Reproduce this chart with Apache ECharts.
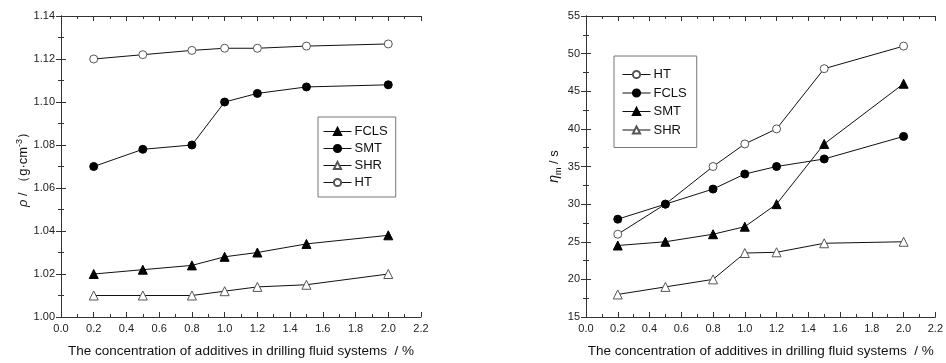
<!DOCTYPE html>
<html><head><meta charset="utf-8">
<script src="https://cdn.jsdelivr.net/npm/echarts@6/dist/echarts.min.js"></script>
<style>html,body{margin:0;padding:0;background:#fff}#c{width:946px;height:363px}</style>
</head><body><div id="c"></div>
<script>
const xVals = [0.2, 0.5, 0.8, 1.0, 1.2, 1.5, 2.0];
// Left chart: density
const leftHT   = [1.120, 1.122, 1.124, 1.125, 1.125, 1.126, 1.127];
const leftSMT  = [1.070, 1.078, 1.080, 1.100, 1.104, 1.107, 1.108];
const leftFCLS = [1.020, 1.022, 1.024, 1.028, 1.030, 1.034, 1.038];
const leftSHR  = [1.010, 1.010, 1.010, 1.012, 1.014, 1.015, 1.020];
// Right chart: funnel viscosity
const rightHT   = [26, 30, 35, 38, 40, 48, 51];
const rightFCLS = [28, 30, 32, 34, 35, 36, 39];
const rightSMT  = [24.5, 25, 26, 27, 30, 38, 46];
const rightSHR  = [18, 19, 20, 23.5, 23.6, 24.8, 25];

const leftLegend = ['FCLS', 'SMT', 'SHR', 'HT'];
const rightLegend = ['HT', 'FCLS', 'SMT', 'SHR'];

const pairs = ys => xVals.map((x, i) => [x, ys[i]]);
const FONT = 'Liberation Sans, Arial, sans-serif';
const TXT = '#222';

function mkSeries(name, data, idx, symbol, filled) {
  return {
    type: 'line', name: name, xAxisIndex: idx, yAxisIndex: idx,
    data: pairs(data), symbol: symbol, symbolSize: symbol === 'triangle' ? 9 : 8,
    lineStyle: { color: '#111', width: 1 },
    itemStyle: filled ? { color: '#000', borderColor: '#000', borderWidth: 1 }
                      : { color: '#fff', borderColor: '#555', borderWidth: 1 },
    emphasis: { disabled: true }, animation: false, z: 5
  };
}

function xAxisPair(gi) {
  const base = {
    type: 'value', gridIndex: gi, min: 0, max: 2.2, interval: 0.2,
    splitLine: { show: false },
    axisLine: { lineStyle: { color: '#333', width: 1 } },
    axisTick: { inside: true, length: 5, lineStyle: { color: '#333' } },
    minorTick: { show: true, splitNumber: 2, length: 3, lineStyle: { color: '#333' } }
  };
  return [
    Object.assign({}, base, {
      position: 'bottom',
      axisLabel: { margin: 6, fontSize: 11, color: TXT, fontFamily: FONT, formatter: v => v.toFixed(1) },
      name: 'The concentration of additives in drilling fluid systems  / %',
      nameLocation: 'middle', nameGap: 27,
      nameTextStyle: { fontSize: 13.5, color: '#111', fontFamily: FONT }
    }),
    Object.assign({}, base, { position: 'top', axisLabel: { show: false } })
  ];
}

function yAxisPair(gi, min, max, interval, dec, name, gap, rich) {
  const base = {
    type: 'value', gridIndex: gi, min: min, max: max, interval: interval,
    splitLine: { show: false },
    axisLine: { show: true, lineStyle: { color: '#333', width: 1 } },
    axisTick: { show: true, inside: true, length: 5, lineStyle: { color: '#333' } },
    minorTick: { show: true, splitNumber: 2, length: 3, lineStyle: { color: '#333' } }
  };
  return [
    Object.assign({}, base, {
      position: 'left',
      axisLabel: { margin: 6, fontSize: 11, color: TXT, fontFamily: FONT, formatter: v => v.toFixed(dec) },
      name: name, nameLocation: 'middle', nameGap: gap, nameRotate: 90,
      nameTextStyle: { fontSize: 13, color: '#111', fontFamily: FONT, rich: rich }
    }),
    Object.assign({}, base, { position: 'right', axisLabel: { show: false } })
  ];
}

const xs = xAxisPair(0).concat(xAxisPair(1));
const ysL = yAxisPair(0, 1.00, 1.14, 0.02, 2, '{i|ρ} / （g·cm{sup|-3}）', 29, {
  i: { fontStyle: 'italic', fontSize: 13, fontFamily: FONT, color: '#111' },
  sup: { fontSize: 9, verticalAlign: 'top', padding: [0, 0, 8, 0], fontFamily: FONT, color: '#111' }
});
const ysR = yAxisPair(1, 15, 55, 5, 0, '{i|η}{sub|m} / s', 23, {
  i: { fontStyle: 'italic', fontSize: 14, fontFamily: FONT, color: '#111' },
  sub: { fontSize: 9, padding: [8, 0, 0, 0], fontFamily: FONT, color: '#111' }
});
const xAxes = xs;
const yAxes = ysL.concat(ysR);

const series = [
  mkSeries('HT', leftHT, 0, 'circle', false),
  mkSeries('SMT', leftSMT, 0, 'circle', true),
  mkSeries('FCLS', leftFCLS, 0, 'triangle', true),
  mkSeries('SHR', leftSHR, 0, 'triangle', false),
  mkSeries('HT_r', rightHT, 2, 'circle', false),
  mkSeries('FCLS_r', rightFCLS, 2, 'circle', true),
  mkSeries('SMT_r', rightSMT, 2, 'triangle', true),
  mkSeries('SHR_r', rightSHR, 2, 'triangle', false)
];

const legendBase = {
  orient: 'vertical', itemWidth: 28, itemHeight: 9,
  backgroundColor: '#fff', borderColor: '#777', borderWidth: 1,
  textStyle: { fontSize: 13, color: '#111', fontFamily: FONT, padding: [0, 0, 0, -2] },
  lineStyle: { width: 1 },
  formatter: n => n.replace('_r', ''), selectedMode: false
};

const chart = echarts.init(document.getElementById('c'), null, { renderer: 'canvas' });
chart.setOption({
  animation: false,
  backgroundColor: '#fff',
  grid: [
    { left: 61, top: 16, width: 360, height: 306 },
    { left: 586, top: 16, width: 354, height: 305 }
  ],
  xAxis: xAxes,
  yAxis: yAxes,
  legend: [
    Object.assign({}, legendBase, { data: leftLegend, left: 318, top: 117, itemGap: 4, padding: [8, 8, 8, 5] }),
    Object.assign({}, legendBase, { data: rightLegend.map(n => n + '_r'), left: 614, top: 56, itemGap: 5.5, padding: [12, 10, 11, 8] })
  ],
  series: series
});
</script>
</body></html>
